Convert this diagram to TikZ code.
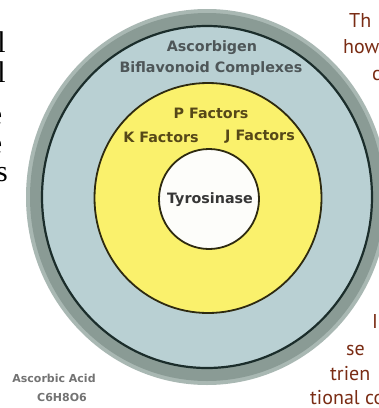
\documentclass[tikz,border=0pt]{standalone}
\usepackage{fontspec}
\newfontfamily\labfont{DejaVu Sans}
\newfontfamily\serfont{Liberation Serif}
\newfontfamily\brfont{PT Sans}
\definecolor{ringgray}{HTML}{8A9B95}
\definecolor{ringlight}{HTML}{A9B8B3}
\definecolor{ringdark}{HTML}{1B2D2B}
\definecolor{paleblue}{HTML}{B9D0D3}
\definecolor{sunyellow}{HTML}{FAF16C}
\definecolor{edgeolive}{HTML}{2E2A10}
\definecolor{coreface}{HTML}{FDFDFA}
\definecolor{bluetext}{HTML}{4E5658}
\definecolor{yeltext}{HTML}{564818}
\definecolor{coretext}{HTML}{363636}
\definecolor{sidebrown}{HTML}{7A2C14}
\tikzset{
  lbl/.style={font=\labfont\bfseries\fontsize{14.3}{15}\selectfont, inner sep=0pt},
  bluelbl/.style={lbl, text=bluetext},
  yellbl/.style={lbl, text=yeltext},
  corelbl/.style={lbl, text=coretext},
  baselbl/.style={font=\labfont\bfseries\fontsize{11}{12}\selectfont, text=black!55, inner sep=0pt},
  serfrag/.style={font=\serfont\fontsize{30}{30}\selectfont, text=black, inner sep=0pt, anchor=base east},
  brfrag/.style={font=\brfont\fontsize{20}{20}\selectfont, text=sidebrown, inner sep=0pt, anchor=base west}
}
\begin{document}
\begin{tikzpicture}[x=1pt,y=-1pt]
\useasboundingbox (0,0) rectangle (379,408);
\clip (0,0) rectangle (379,408);
\fill[white] (0,0) rectangle (379,408);
% outer ring
\fill[ringlight] (207,197) ellipse [x radius=181, y radius=188];
\fill[ringgray] (207,197) ellipse [x radius=177, y radius=184];
\filldraw[fill=paleblue, draw=ringdark, line width=2.2pt] (207,197) ellipse [x radius=165, y radius=171];
% yellow disc
\filldraw[fill=sunyellow, draw=edgeolive, line width=1.8pt] (208,198) ellipse [x radius=113.5, y radius=115];
% core
\filldraw[fill=coreface, draw=edgeolive, line width=1.8pt] (209,199) circle (50);
% labels
\node[bluelbl] (asc) at (212,48) {Ascorbigen};
\node[bluelbl] (bif) at (211,69) {Biflavonoid Complexes};
\node[yellbl] (pf) at (211,113) {P Factors};
\node[yellbl] (kf) at (161,137) {K Factors};
\node[yellbl] (jf) at (260,137) {J Factors};
\node[corelbl] (tyr) at (210,200) {Tyrosinase};
\node[baselbl] (aa) at (54,378) {Ascorbic Acid};
\node[baselbl] (form) at (62,397) {C6H8O6};
% clipped fragments of surrounding page text
\node[serfrag] (l1) at (6,52) {l};
\node[serfrag] (l2) at (6,82) {l};
\node[serfrag] (l3) at (2.5,124) {e};
\node[serfrag] (l4) at (2.5,153) {e};
\node[serfrag] (l5) at (8,181) {s};
\node[brfrag] (r1) at (349,27) {Th};
\node[brfrag] (r2) at (343,53) {how};
\node[brfrag] (r3) at (372,80) {c};
\node[brfrag] (r4) at (372,328) {I};
\node[brfrag] (r5) at (346,355) {se};
\node[brfrag] (r6) at (330,380) {trien};
\node[brfrag] (r7) at (310,404) {tional co};
\end{tikzpicture}
\end{document}
